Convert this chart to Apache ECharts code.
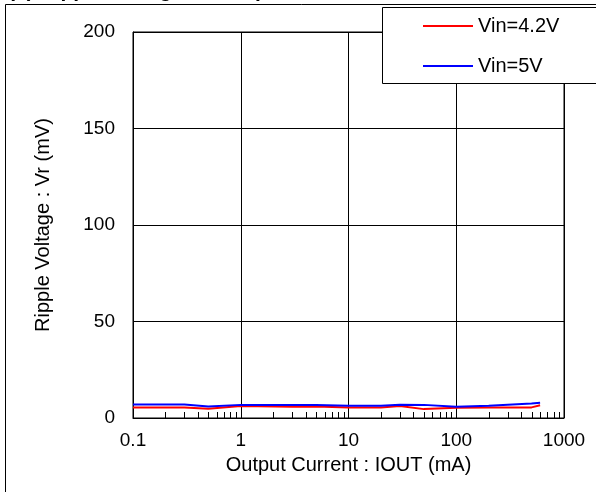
<!DOCTYPE html>
<html>
<head>
<meta charset="utf-8">
<script src="https://cdn.jsdelivr.net/npm/echarts@6/dist/echarts.min.js"></script>
<style>
html,body{margin:0;padding:0;background:#fff;}
#c{width:596px;height:492px;}
</style>
</head>
<body>
<div id="c"></div>
<script>
var currents = [0.1, 0.3, 0.5, 1, 3, 5, 10, 20, 30, 50, 100, 200, 500, 600];
var vin42 = [5.4, 5.5, 4.8, 6.2, 5.8, 5.9, 5.5, 5.5, 6.2, 4.6, 5.3, 5.5, 5.5, 6.6];
var vin5  = [7.0, 7.0, 6.0, 6.8, 6.7, 6.7, 6.4, 6.3, 6.9, 6.8, 5.8, 6.3, 7.5, 7.9];
var minorTicks = [0.2,0.3,0.4,0.5,0.6,0.7,0.8,0.9, 2,3,4,5,6,7,8,9, 20,30,40,50,60,70,80,90, 200,300,400,500,600,700,800,900];
var seriesNames = ['Vin=4.2V', 'Vin=5V'];
var titleText = '(c) Ripple Voltage vs Output Current';

var FONT = 'Liberation Sans, Arial, sans-serif';
function pairs(xs, ys){ return xs.map(function(x,i){ return [x, ys[i]]; }); }

var chart = echarts.init(document.getElementById('c'), null, {renderer:'canvas'});
chart.setOption({
  animation: false,
  backgroundColor: '#fff',
  textStyle: {fontFamily: FONT},
  grid: {left: 133, top: 32, right: 32, bottom: 74, show: true, borderColor: '#000', borderWidth: 1, containLabel: false},
  legend: {
    orient: 'vertical', left: 418, top: 11, itemWidth: 50, itemHeight: 2, itemGap: 20,
    icon: 'rect', z: 20,
    textStyle: {fontFamily: FONT, fontSize: 20, color: '#000'},
    data: seriesNames
  },
  xAxis: {
    type: 'log', logBase: 10, min: 0.1, max: 1000,
    name: 'Output Current : IOUT (mA)', nameLocation: 'middle', nameGap: 37,
    nameTextStyle: {fontFamily: FONT, fontSize: 20, color: '#000'},
    axisLine: {show: true, lineStyle: {color: '#000', width: 1}},
    axisTick: {show: false},
    minorTick: {show: false},
    axisLabel: {fontFamily: FONT, fontSize: 19, color: '#000', margin: 13,
      formatter: function(v){ return String(+v.toPrecision(3)); }},
    splitLine: {show: true, lineStyle: {color: '#000', width: 1}}
  },
  yAxis: {
    type: 'value', min: 0, max: 200, interval: 50,
    name: 'Ripple Voltage : Vr (mV)', nameLocation: 'middle', nameGap: 80,
    nameTextStyle: {fontFamily: FONT, fontSize: 20, color: '#000'},
    axisLine: {show: true, lineStyle: {color: '#000', width: 1}},
    axisTick: {show: false},
    axisLabel: {fontFamily: FONT, fontSize: 19, color: '#000', margin: 18},
    splitLine: {show: true, lineStyle: {color: '#000', width: 1}}
  },
  graphic: [
    {type: 'rect', z: 10, silent: true, shape: {x: 5.5, y: 4.5, width: 700, height: 700},
     style: {fill: 'none', stroke: '#000', lineWidth: 1}},
    {type: 'rect', z: 10, silent: true, shape: {x: 382.5, y: 7.5, width: 300, height: 76},
     style: {fill: '#fff', stroke: '#000', lineWidth: 1}},
    {type: 'text', z: 10, silent: true, x: 8, y: 2,
     style: {text: titleText, font: 'bold 21px ' + FONT, fill: '#000', verticalAlign: 'bottom', align: 'left'}}
  ],
  series: [
    {name: seriesNames[0], type: 'line', data: pairs(currents, vin42), showSymbol: false, symbol: 'none',
     lineStyle: {color: '#ff0000', width: 2}, itemStyle: {color: '#ff0000'}, z: 3},
    {name: seriesNames[1], type: 'line', data: pairs(currents, vin5), showSymbol: false, symbol: 'none',
     lineStyle: {color: '#0000ff', width: 2}, itemStyle: {color: '#0000ff'}, z: 4},
    {type: 'custom', name: 'minor', silent: true, z: 2,
     data: minorTicks.map(function(v){ return [v, 0]; }),
     renderItem: function(params, api){
       var p = api.coord([api.value(0), 0]);
       return {type: 'line', shape: {x1: Math.round(p[0]) + 0.5, y1: p[1], x2: Math.round(p[0]) + 0.5, y2: p[1] - 6},
               style: {stroke: '#000', lineWidth: 1}};
     }}
  ]
});
</script>
</body>
</html>
